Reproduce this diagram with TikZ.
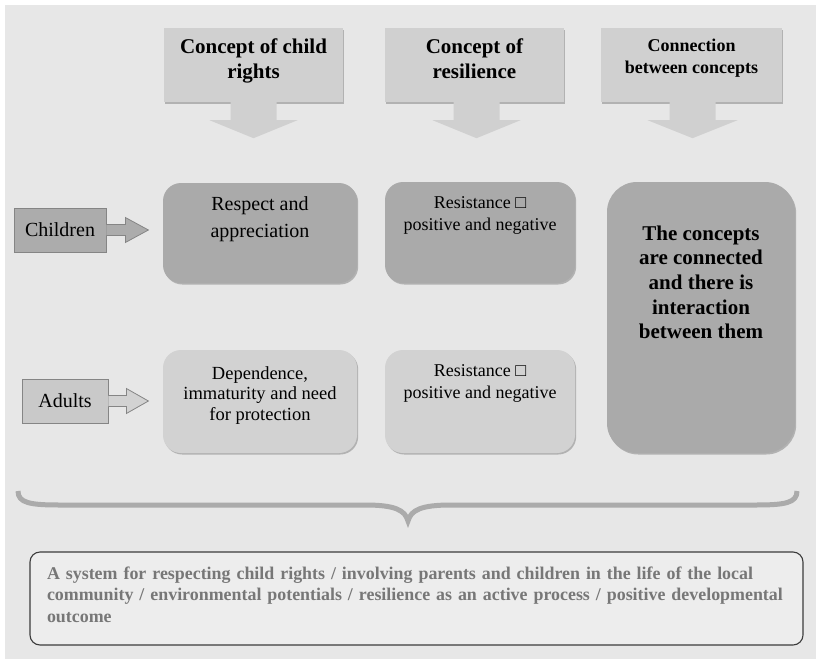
\documentclass[tikz,border=0pt]{standalone}
\usepackage{fontspec}
\setmainfont{Liberation Serif}
\usetikzlibrary{positioning,shadows}
\definecolor{bggray}{HTML}{E7E7E7}
\definecolor{headgray}{HTML}{D0D0D0}
\definecolor{darkcell}{HTML}{AAAAAA}
\definecolor{lightcell}{HTML}{D2D2D2}
\definecolor{sidedark}{HTML}{ACACAC}
\definecolor{sidelight}{HTML}{C9C9C9}
\definecolor{edgegray}{HTML}{858585}
\definecolor{bracegray}{HTML}{ABABAB}
\definecolor{sumfill}{HTML}{EDEDED}
\definecolor{sumedge}{HTML}{3C3C3C}
\definecolor{sumtext}{HTML}{777777}
\tikzset{
  softshadow/.style={drop shadow={shadow xshift=1.2pt,shadow yshift=-1.5pt,fill=black!55,opacity=.45}},
  heading/.style={fill=headgray, softshadow, minimum width=179pt, inner sep=0pt, align=center,
    font=\bfseries\fontsize{21}{25}\selectfont, text height=50pt, text depth=24pt},
  cell/.style={rounded corners=18pt, softshadow, inner sep=0pt, align=center},
  sidebox/.style={draw=edgegray, line width=.8pt, inner sep=0pt, minimum height=44pt, font=\fontsize{20}{24}\selectfont},
}
\begin{document}
\begin{tikzpicture}[x=1pt,y=-1pt]
\fill[white] (0,0) rectangle (816,659);
\fill[bggray] (5,5) rectangle (816,659);
\useasboundingbox (0,0) rectangle (816,659);

% column headings
\node (crights) [heading] at (253.5,65) {Concept of child\\rights};
\node (cresil) [heading] at (474.5,65) {Concept of\\resilience};
\node (cconn) [heading, minimum width=181pt, font=\bfseries\fontsize{18}{22}\selectfont,
  text height=45pt, text depth=29pt] at (691.5,65) {Connection\\between concepts};
\fill[headgray] ([xshift=-23pt,yshift=2pt]crights.south) -- ++(0,20) -- ++(-21,0) -- ++(44,18) -- ++(44,-18) -- ++(-21,0) -- ++(0,-20) -- cycle;
\fill[headgray] ([xshift=-21pt,yshift=2pt]cresil.south) -- ++(0,20) -- ++(-21,0) -- ++(44,18) -- ++(44,-18) -- ++(-21,0) -- ++(0,-20) -- cycle;
\fill[headgray] ([xshift=-22pt,yshift=2pt]cconn.south) -- ++(0,20) -- ++(-22,0) -- ++(45,18) -- ++(45,-18) -- ++(-22,0) -- ++(0,-20) -- cycle;

% row cells
\node (respect) [cell, fill=darkcell, minimum width=194pt, font=\fontsize{20}{27}\selectfont,
  text height=54pt, text depth=46pt] at (260,233) {Respect and\\appreciation};
\node (resist1) [cell, fill=darkcell, minimum width=190pt, font=\fontsize{18}{22}\selectfont,
  text height=48pt, text depth=53pt] at (480,232.5) {Resistance □\\positive and negative};
\node (depend) [cell, fill=lightcell, minimum width=194pt, font=\fontsize{18.5}{20.5}\selectfont,
  text height=70pt, text depth=33pt] at (260,401.5) {Dependence,\\immaturity and need\\for protection};
\node (resist2) [cell, fill=lightcell, minimum width=190pt, font=\fontsize{18}{22}\selectfont,
  text height=48pt, text depth=55pt] at (480,401.5) {Resistance □\\positive and negative};
\node (linked) [cell, rounded corners=30pt, fill=darkcell, minimum width=188pt,
  font=\bfseries\fontsize{21}{24.7}\selectfont, text height=156.8pt, text depth=114.2pt]
  at (701,317.5) {The concepts\\are connected\\and there is\\interaction\\between them};

% side labels
\node (children) [sidebox, fill=sidedark, minimum width=92pt] at (60,230) {Children};
\node (adults) [sidebox, fill=sidelight, minimum width=86pt] at (65,401) {Adults};
\filldraw[fill=sidedark, draw=edgegray, line width=.8pt] ([yshift=5.5pt]children.east) -- ++(19,0) -- ++(0,-7) -- ++(23,12.5) -- ++(-23,12.5) -- ++(0,-7) -- ++(-19,0);
\filldraw[fill=lightcell, draw=edgegray, line width=.8pt] ([yshift=5.5pt]adults.east) -- ++(18,0) -- ++(0,-7) -- ++(22,12.5) -- ++(-22,12.5) -- ++(0,-7) -- ++(-18,0);

% brace
\draw[bracegray, line width=5pt] (18,491) .. controls (18,503) and (30,505) .. (60,505) -- (365,505)
  .. controls (395,505) and (405,510) .. (408,521) .. controls (411,510) and (421,505) .. (451,505)
  -- (755,505) .. controls (785,505) and (797,503) .. (797,491);

% summary
\node (summary) [draw=sumedge, line width=1.1pt, fill=sumfill, rounded corners=10pt,
  inner xsep=17pt, inner ysep=0pt, text width=739pt, align=left, text=sumtext,
  font=\bfseries\fontsize{17.9}{21.5}\selectfont, text height=27pt, text depth=66pt]
  at (416.5,598.5) {A system for respecting child rights / involving parents and children in the life of the local\\
  community / environmental potentials / resilience as an active process / positive developmental\\
  outcome};
\end{tikzpicture}
\end{document}
